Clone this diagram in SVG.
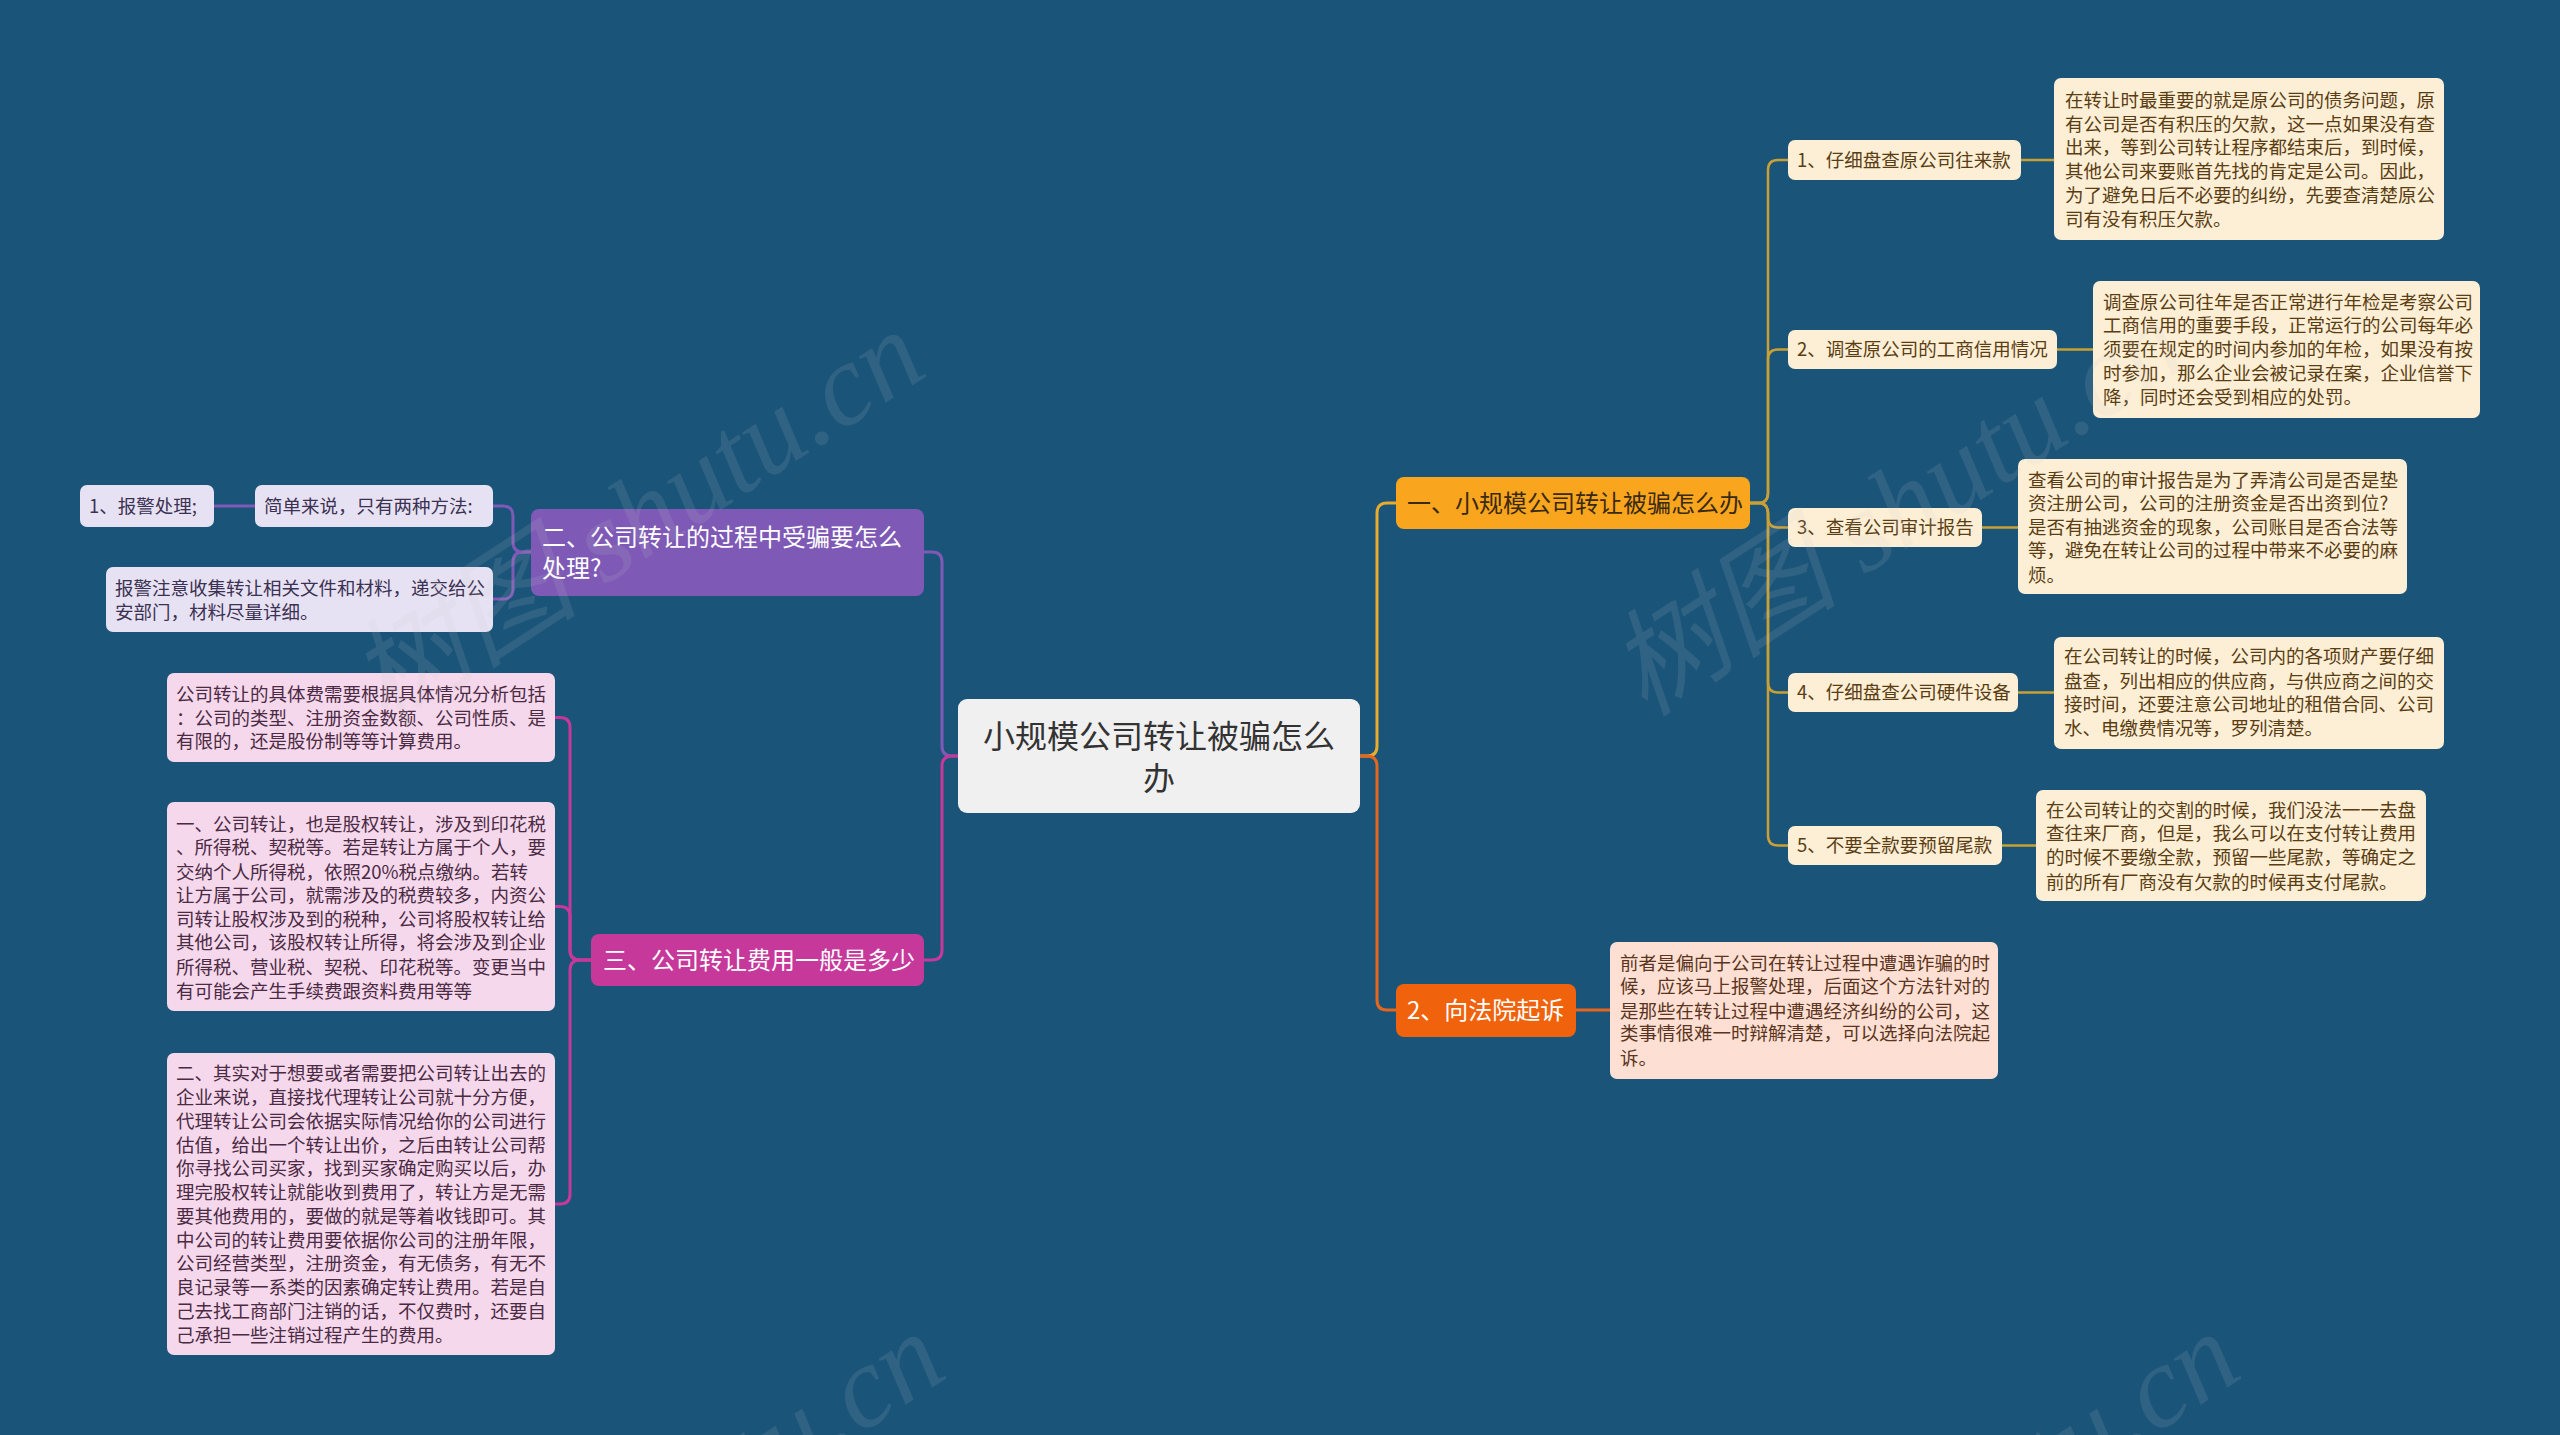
<svg xmlns="http://www.w3.org/2000/svg" width="2560" height="1435" viewBox="0 0 2560 1435">
<style>
text{font-family:"Noto Sans CJK SC","Noto Sans",sans-serif;}
.c1{fill:#f9a51e;}
.c2{fill:#f0620c;}
.cp{fill:#7e5ab6;}
.cm{fill:#c6399b;}
.sub{fill:#fdefd6;}
.dsc{fill:#fdefd6;}
.dcr{fill:#fde0d3;}
.lp{fill:#e7e2f3;}
.lm{fill:#f5d8eb;}
.t18{font-size:18.5px;}
.tb{fill:#5a3d12;}
.tc{fill:#5a3420;}
.tp{fill:#3b3152;}
.tm{fill:#4b2a44;}
.t24{font-size:24px;}
.w{fill:#ffffff;}
.ln{fill:none;stroke-width:3;}
.lo{stroke:#e9ac2c;}
.lg{stroke:#c9a035;stroke-width:2.5;}
.lr{stroke:#e5661f;}
.lpp{stroke:#7e5ab6;}
.lmm{stroke:#c6399b;}
.wm{font-size:116px;fill:#c8c8c8;fill-opacity:0.13;font-family:"Liberation Serif","Noto Sans CJK SC",serif;font-style:italic;}
</style>
<rect x="0" y="0" width="2560" height="1435" fill="#1a5479"/>

<g id="connectors">
<path class="ln lo" d="M1360,756 L1367,756 Q1377,756 1377,746 L1377,513 Q1377,503 1387,503 L1396,503"/>
<path class="ln lr" d="M1360,756 L1367,756 Q1377,756 1377,766 L1377,1000 Q1377,1010 1387,1010 L1396,1010"/>
<path class="ln lpp" d="M958,756 L952,756 Q942,756 942,746 L942,562 Q942,552 932,552 L924,552"/>
<path class="ln lmm" d="M958,756 L952,756 Q942,756 942,766 L942,950 Q942,960 932,960 L924,960"/>
<path class="ln lg" d="M1750,503 L1758,503 Q1768,503 1768,493 L1768,170 Q1768,160 1778,160 L1788,160"/>
<path class="ln lg" d="M1750,503 L1758,503 Q1768,503 1768,493 L1768,359.5 Q1768,349.5 1778,349.5 L1788,349.5"/>
<path class="ln lg" d="M1750,503 L1758,503 Q1768,503 1768,513 L1768,517.5 Q1768,527.5 1778,527.5 L1788,527.5"/>
<path class="ln lg" d="M1750,503 L1758,503 Q1768,503 1768,513 L1768,682.5 Q1768,692.5 1778,692.5 L1788,692.5"/>
<path class="ln lg" d="M1750,503 L1758,503 Q1768,503 1768,513 L1768,835.5 Q1768,845.5 1778,845.5 L1788,845.5"/>
<path class="ln lg" d="M2021,160 L2054,160"/>
<path class="ln lg" d="M2057,349.5 L2093,349.5"/>
<path class="ln lg" d="M1982,527.5 L2018,527.5"/>
<path class="ln lg" d="M2018,692.5 L2054,692.5"/>
<path class="ln lg" d="M2002,845.5 L2036,845.5"/>
<path class="ln lr" d="M1576,1010 L1610,1010"/>
<path class="ln lpp" d="M531,552 L523,552 Q513,552 513,542 L513,516 Q513,506 503,506 L493,506"/>
<path class="ln lpp" d="M531,552 L523,552 Q513,552 513,562 L513,589 Q513,599 503,599 L493,599"/>
<path class="ln lpp" d="M255,506 L214,506"/>
<path class="ln lmm" d="M591,960 L580,960 Q570,960 570,950 L570,727.5 Q570,717.5 560,717.5 L555,717.5"/>
<path class="ln lmm" d="M591,960 L580,960 Q570,960 570,950 L570,916.5 Q570,906.5 560,906.5 L555,906.5"/>
<path class="ln lmm" d="M591,960 L580,960 Q570,960 570,970 L570,1194 Q570,1204 560,1204 L555,1204"/>
</g>

<g id="center">
<rect x="958" y="699" width="402" height="114" rx="9" fill="#f0f0f0"/>
<text x="1159" y="748" font-size="32" fill="#333" text-anchor="middle">小规模公司转让被骗怎么</text>
<text x="1159" y="790" font-size="32" fill="#333" text-anchor="middle">办</text>
</g>

<g id="b1">
<rect class="c1" x="1396" y="477" width="354" height="52" rx="8"/>
<text class="t24" x="1407" y="512" fill="#3a2a12">一、小规模公司转让被骗怎么办</text>
</g>
<g id="b2">
<rect class="c2" x="1396" y="984" width="180" height="53" rx="8"/>
<text class="t24 w" x="1407" y="1019">2、向法院起诉</text>
</g>
<g id="b3">
<rect class="cp" x="531" y="509" width="393" height="87" rx="8"/>
<text class="t24 w" x="542" y="546">二、公司转让的过程中受骗要怎么</text>
<text class="t24 w" x="542" y="577">处理?</text>
</g>
<g id="b4">
<rect class="cm" x="591" y="934" width="333" height="52" rx="8"/>
<text class="t24 w" x="603" y="969">三、公司转让费用一般是多少</text>
</g>

<g id="s1">
<rect class="sub" x="1788" y="140" width="233" height="40" rx="7"/>
<text class="t18 tb" x="1797" y="167">1、仔细盘查原公司往来款</text>
</g>
<g id="d1">
<rect class="dsc" x="2054" y="78" width="390" height="162" rx="7"/>
<text class="t18 tb" x="2065" y="107">在转让时最重要的就是原公司的债务问题，原</text>
<text class="t18 tb" x="2065" y="131">有公司是否有积压的欠款，这一点如果没有查</text>
<text class="t18 tb" x="2065" y="154">出来，等到公司转让程序都结束后，到时候，</text>
<text class="t18 tb" x="2065" y="178">其他公司来要账首先找的肯定是公司。因此，</text>
<text class="t18 tb" x="2065" y="202">为了避免日后不必要的纠纷，先要查清楚原公</text>
<text class="t18 tb" x="2065" y="226">司有没有积压欠款。</text>
</g>

<g id="s2">
<rect class="sub" x="1788" y="330" width="269" height="39" rx="7"/>
<text class="t18 tb" x="1797" y="356">2、调查原公司的工商信用情况</text>
</g>
<g id="d2">
<rect class="dsc" x="2093" y="281" width="387" height="137" rx="7"/>
<text class="t18 tb" x="2103" y="309">调查原公司往年是否正常进行年检是考察公司</text>
<text class="t18 tb" x="2103" y="332">工商信用的重要手段，正常运行的公司每年必</text>
<text class="t18 tb" x="2103" y="356">须要在规定的时间内参加的年检，如果没有按</text>
<text class="t18 tb" x="2103" y="380">时参加，那么企业会被记录在案，企业信誉下</text>
<text class="t18 tb" x="2103" y="404">降，同时还会受到相应的处罚。</text>
</g>

<g id="s3">
<rect class="sub" x="1788" y="508" width="194" height="39" rx="7"/>
<text class="t18 tb" x="1797" y="534">3、查看公司审计报告</text>
</g>
<g id="d3">
<rect class="dsc" x="2018" y="459" width="389" height="135" rx="7"/>
<text class="t18 tb" x="2028" y="487">查看公司的审计报告是为了弄清公司是否是垫</text>
<text class="t18 tb" x="2028" y="510">资注册公司，公司的注册资金是否出资到位?</text>
<text class="t18 tb" x="2028" y="534">是否有抽逃资金的现象，公司账目是否合法等</text>
<text class="t18 tb" x="2028" y="557">等，避免在转让公司的过程中带来不必要的麻</text>
<text class="t18 tb" x="2028" y="582">烦。</text>
</g>

<g id="s4">
<rect class="sub" x="1788" y="673" width="230" height="39" rx="7"/>
<text class="t18 tb" x="1797" y="699">4、仔细盘查公司硬件设备</text>
</g>
<g id="d4">
<rect class="dsc" x="2054" y="637" width="390" height="112" rx="7"/>
<text class="t18 tb" x="2064" y="663">在公司转让的时候，公司内的各项财产要仔细</text>
<text class="t18 tb" x="2064" y="688">盘查，列出相应的供应商，与供应商之间的交</text>
<text class="t18 tb" x="2064" y="711">接时间，还要注意公司地址的租借合同、公司</text>
<text class="t18 tb" x="2064" y="735">水、电缴费情况等，罗列清楚。</text>
</g>

<g id="s5">
<rect class="sub" x="1788" y="826" width="214" height="39" rx="7"/>
<text class="t18 tb" x="1797" y="852">5、不要全款要预留尾款</text>
</g>
<g id="d5">
<rect class="dsc" x="2036" y="790" width="390" height="111" rx="7"/>
<text class="t18 tb" x="2046" y="817">在公司转让的交割的时候，我们没法一一去盘</text>
<text class="t18 tb" x="2046" y="840">查往来厂商，但是，我么可以在支付转让费用</text>
<text class="t18 tb" x="2046" y="864">的时候不要缴全款，预留一些尾款，等确定之</text>
<text class="t18 tb" x="2046" y="889">前的所有厂商没有欠款的时候再支付尾款。</text>
</g>

<g id="d6">
<rect class="dcr" x="1610" y="942" width="388" height="137" rx="7"/>
<text class="t18 tc" x="1620" y="970">前者是偏向于公司在转让过程中遭遇诈骗的时</text>
<text class="t18 tc" x="1620" y="993">候，应该马上报警处理，后面这个方法针对的</text>
<text class="t18 tc" x="1620" y="1018">是那些在转让过程中遭遇经济纠纷的公司，这</text>
<text class="t18 tc" x="1620" y="1040">类事情很难一时辩解清楚，可以选择向法院起</text>
<text class="t18 tc" x="1620" y="1065">诉。</text>
</g>

<g id="p1">
<rect class="lp" x="255" y="485" width="238" height="42" rx="7"/>
<text class="t18 tp" x="264" y="513">简单来说，只有两种方法:</text>
</g>
<g id="p2">
<rect class="lp" x="80" y="485" width="134" height="42" rx="7"/>
<text class="t18 tp" x="89" y="513">1、报警处理;</text>
</g>
<g id="p3">
<rect class="lp" x="106" y="567" width="387" height="65" rx="7"/>
<text class="t18 tp" x="115" y="595">报警注意收集转让相关文件和材料，递交给公</text>
<text class="t18 tp" x="115" y="619">安部门，材料尽量详细。</text>
</g>

<g id="m1">
<rect class="lm" x="167" y="673" width="388" height="89" rx="7"/>
<text class="t18 tm" x="176" y="701">公司转让的具体费需要根据具体情况分析包括</text>
<text class="t18 tm" x="176" y="725">：公司的类型、注册资金数额、公司性质、是</text>
<text class="t18 tm" x="176" y="748">有限的，还是股份制等等计算费用。</text>
</g>
<g id="m2">
<rect class="lm" x="167" y="802" width="388" height="209" rx="7"/>
<text class="t18 tm" x="176" y="831">一、公司转让，也是股权转让，涉及到印花税</text>
<text class="t18 tm" x="176" y="854">、所得税、契税等。若是转让方属于个人，要</text>
<text class="t18 tm" x="176" y="879">交纳个人所得税，依照20%税点缴纳。若转</text>
<text class="t18 tm" x="176" y="902">让方属于公司，就需涉及的税费较多，内资公</text>
<text class="t18 tm" x="176" y="926">司转让股权涉及到的税种，公司将股权转让给</text>
<text class="t18 tm" x="176" y="949">其他公司，该股权转让所得，将会涉及到企业</text>
<text class="t18 tm" x="176" y="974">所得税、营业税、契税、印花税等。变更当中</text>
<text class="t18 tm" x="176" y="998">有可能会产生手续费跟资料费用等等</text>
</g>
<g id="m3">
<rect class="lm" x="167" y="1053" width="388" height="302" rx="7"/>
<text class="t18 tm" x="176" y="1080">二、其实对于想要或者需要把公司转让出去的</text>
<text class="t18 tm" x="176" y="1104">企业来说，直接找代理转让公司就十分方便，</text>
<text class="t18 tm" x="176" y="1128">代理转让公司会依据实际情况给你的公司进行</text>
<text class="t18 tm" x="176" y="1152">估值，给出一个转让出价，之后由转让公司帮</text>
<text class="t18 tm" x="176" y="1175">你寻找公司买家，找到买家确定购买以后，办</text>
<text class="t18 tm" x="176" y="1199">理完股权转让就能收到费用了，转让方是无需</text>
<text class="t18 tm" x="176" y="1223">要其他费用的，要做的就是等着收钱即可。其</text>
<text class="t18 tm" x="176" y="1247">中公司的转让费用要依据你公司的注册年限，</text>
<text class="t18 tm" x="176" y="1270">公司经营类型，注册资金，有无债务，有无不</text>
<text class="t18 tm" x="176" y="1294">良记录等一系类的因素确定转让费用。若是自</text>
<text class="t18 tm" x="176" y="1318">己去找工商部门注销的话，不仅费时，还要自</text>
<text class="t18 tm" x="176" y="1342">己承担一些注销过程产生的费用。</text>
</g>

<g id="watermark">
<text class="wm" transform="translate(385,728) rotate(-33)">树图 shutu.cn</text>
<text class="wm" transform="translate(1645,718) rotate(-33)">树图 shutu.cn</text>
<text class="wm" transform="translate(405,1730) rotate(-33)">树图 shutu.cn</text>
<text class="wm" transform="translate(1700,1730) rotate(-33)">树图 shutu.cn</text>
</g>
</svg>
